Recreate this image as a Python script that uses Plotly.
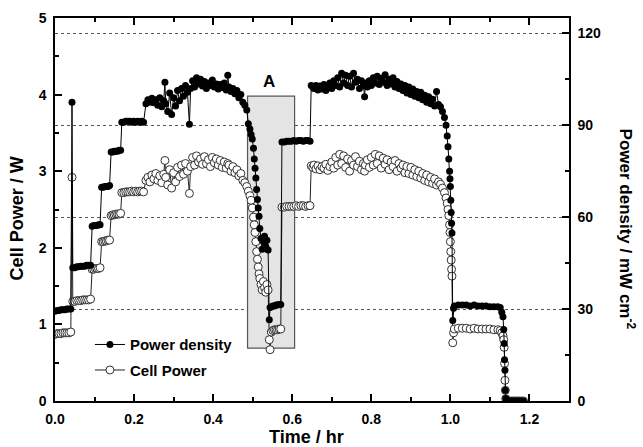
import plotly.graph_objects as go

# ---------------- data ----------------
time_hr = [
    0.000, 0.005, 0.010, 0.015, 0.020, 0.025, 0.030, 0.035, 0.040,
    0.043,
    0.045, 0.050, 0.055, 0.060, 0.065, 0.070, 0.075, 0.080, 0.085, 0.090,
    0.094, 0.098, 0.102, 0.106, 0.110, 0.114,
    0.118, 0.122, 0.126, 0.130, 0.134, 0.138,
    0.142, 0.146, 0.150, 0.154, 0.158, 0.162, 0.166,
    0.169, 0.174, 0.179, 0.184, 0.189, 0.194, 0.199, 0.204, 0.209, 0.214, 0.219, 0.224,
    # noisy region 1
    0.230, 0.235, 0.240, 0.245, 0.250, 0.255, 0.260, 0.265, 0.270, 0.275,
    0.278,
    0.280, 0.285, 0.290, 0.295, 0.300, 0.305, 0.310, 0.315, 0.320, 0.325, 0.330, 0.335,
    0.340,
    0.343, 0.348, 0.353, 0.358, 0.363, 0.368, 0.373, 0.378, 0.383, 0.388, 0.393, 0.398,
    0.403, 0.408, 0.413, 0.418, 0.423, 0.428, 0.433,
    0.437,
    0.440, 0.445, 0.450, 0.455, 0.460, 0.465, 0.470, 0.475, 0.480,
    # region A
    0.485, 0.489, 0.493, 0.496, 0.499, 0.502, 0.504, 0.506, 0.508, 0.510, 0.512, 0.514,
    0.516, 0.518, 0.521, 0.524, 0.527, 0.530, 0.533, 0.536, 0.539,
    0.542, 0.544,
    0.547, 0.551, 0.555, 0.559, 0.563, 0.567, 0.571,
    0.574, 0.580, 0.586, 0.592, 0.598, 0.604, 0.610, 0.616, 0.622, 0.628, 0.634, 0.640, 0.645,
    # noisy region 2
    0.648, 0.652, 0.655, 0.660, 0.665, 0.670, 0.675, 0.680, 0.685, 0.690,
    0.695, 0.700, 0.705, 0.710, 0.715, 0.720, 0.725, 0.730, 0.735, 0.740,
    0.745, 0.750, 0.755, 0.760, 0.765, 0.770, 0.775, 0.780,
    0.783,
    0.785, 0.790, 0.795, 0.800, 0.805, 0.810, 0.815, 0.820, 0.825, 0.830,
    0.835, 0.840, 0.845, 0.850, 0.855, 0.860, 0.865, 0.870, 0.875, 0.880,
    0.885, 0.890, 0.895, 0.900, 0.905, 0.910, 0.915, 0.920, 0.925, 0.930,
    0.935, 0.940, 0.945, 0.950, 0.955, 0.960, 0.965, 0.970,
    # final drop, low plateau, shutdown
    0.975, 0.980, 0.985, 0.989, 0.992, 0.994, 0.996, 0.998, 0.999, 1.000,
    1.001, 1.002, 1.003, 1.004, 1.006, 1.008,
    1.010, 1.020, 1.030, 1.040, 1.050, 1.060, 1.070, 1.080, 1.090, 1.100,
    1.110, 1.120, 1.126, 1.130, 1.133,
    1.135, 1.136, 1.137, 1.138, 1.139, 1.140,
    1.145, 1.150, 1.155, 1.160, 1.165, 1.170, 1.175, 1.180, 1.185,
]

# Power density, mW cm^-2 (right axis)
power_density = [
    29.3, 29.5, 29.5, 29.8, 29.8, 29.8, 30.0, 30.0, 30.0,
    97.5,
    43.5, 43.5, 43.8, 43.8, 44.0, 44.0, 44.0, 44.3, 44.3, 44.3,
    57.0, 57.3, 57.3, 57.3, 57.5, 57.5,
    69.8, 69.8, 70.0, 70.0, 70.0, 70.3,
    81.3, 81.3, 81.5, 81.5, 81.5, 81.8, 81.8,
    91.0, 91.0, 91.3, 91.3, 91.3, 91.0, 91.3, 91.0, 91.3, 91.0, 91.3, 91.0,
    97.0, 98.3, 97.5, 98.8, 97.3, 98.3, 96.5, 99.0, 96.0, 98.0,
    104.0,
    97.0, 94.5, 100.5, 93.5, 99.0, 96.3, 101.3, 98.0, 102.0, 99.5, 103.0, 100.8,
    90.3,
    102.0, 104.5, 102.5, 105.5, 103.5, 105.0, 102.8, 104.3, 102.0, 103.8, 103.0, 104.8,
    102.5, 103.5, 101.8, 103.3, 102.3, 103.8, 101.5,
    106.3,
    102.5, 101.0, 102.0, 100.3, 101.3, 99.0, 100.0, 97.5, 96.5,
    95.0, 90.5, 88.8, 87.0, 85.5, 82.5, 79.0, 76.0, 72.8, 69.0, 65.8, 63.0,
    60.3, 56.3, 53.0, 49.5, 52.0, 53.8, 50.5, 52.5, 49.3,
    26.5, 30.5,
    30.8, 31.0, 31.0, 31.3, 31.3, 31.5, 31.5,
    84.5, 84.5, 84.8, 84.8, 84.8, 85.0, 84.8, 85.0, 85.0, 84.8, 85.0, 85.0, 84.8,
    103.0, 102.5, 102.0, 103.0, 101.5, 102.8, 101.8, 103.3, 101.3, 102.5,
    103.8, 102.0, 104.5, 103.0, 105.5, 102.5, 107.0, 103.8, 106.3, 103.0,
    106.0, 102.5, 107.0, 104.0, 105.0, 102.0, 104.5, 103.0,
    99.3,
    103.8, 102.5, 104.5, 103.0, 105.5, 103.8, 106.0, 103.3, 105.3, 104.0,
    106.5, 103.0, 105.0, 103.5, 105.5, 102.5, 104.3, 102.0, 103.5, 101.3,
    103.0, 100.5, 102.5, 100.0, 101.8, 99.5, 101.0, 99.0, 100.8, 98.3,
    99.8, 97.5, 99.3, 97.0, 98.5, 96.3, 101.0, 96.8,
    96.0, 94.5, 92.5, 90.0, 86.5, 83.0, 79.0, 75.0, 72.5, 70.0,
    65.5, 61.5, 58.0, 54.8, 26.3, 30.3,
    31.0, 31.3, 31.3, 31.3, 31.0, 31.3, 31.0, 31.0, 31.0, 30.8,
    30.8, 30.8, 30.5, 29.0, 27.5,
    23.3, 18.8, 13.5, 10.0, 3.5, 0.8,
    0.0, 0.0, 0.0, 0.0, 0.0, 0.0, 0.0, 0.0, 0.0,
]

# Cell power, W (left axis)
cell_power = [
    0.87, 0.88, 0.88, 0.88, 0.89, 0.89, 0.89, 0.89, 0.90,
    2.92,
    1.30, 1.30, 1.31, 1.31, 1.31, 1.32, 1.32, 1.32, 1.32, 1.33,
    1.72, 1.72, 1.73, 1.73, 1.73, 1.74,
    2.08, 2.08, 2.09, 2.09, 2.10, 2.10,
    2.42, 2.43, 2.43, 2.44, 2.44, 2.44, 2.45,
    2.72, 2.72, 2.73, 2.73, 2.73, 2.74, 2.73, 2.74, 2.73, 2.74, 2.74, 2.73,
    2.88, 2.92, 2.86, 2.95, 2.90, 2.97, 2.88, 2.94, 2.85, 2.96,
    3.14,
    2.92, 2.82, 3.02, 2.78, 2.98, 2.86, 3.05, 2.93, 3.08, 2.96, 3.10, 3.00,
    2.71,
    3.06, 3.18, 3.08, 3.20, 3.12, 3.16, 3.09, 3.19, 3.10, 3.15, 3.06, 3.18,
    3.11, 3.16, 3.08, 3.14, 3.05, 3.12, 3.04,
    3.10,
    3.08, 3.00, 3.06, 2.98, 3.02, 2.94, 2.97, 2.88, 2.85,
    2.80, 2.74, 2.68, 2.62, 2.52, 2.40, 2.30, 2.20, 2.08, 1.95, 1.85, 1.75,
    1.66, 1.60, 1.52, 1.45, 1.56, 1.48, 1.42, 1.52, 1.45,
    0.80, 0.67,
    0.90, 0.92, 0.93, 0.93, 0.93, 0.94, 0.94,
    2.53, 2.53, 2.54, 2.54, 2.54, 2.54, 2.55, 2.54, 2.55, 2.55, 2.54, 2.55, 2.55,
    3.07, 3.05, 3.08, 3.03, 3.07, 3.02, 3.06, 3.04, 3.09, 3.01,
    3.06, 3.12, 3.04, 3.18, 3.08, 3.22, 3.10, 3.20, 3.05, 3.16,
    3.00, 3.14, 3.08, 3.19, 3.06, 3.13, 3.02, 3.10,
    3.00,
    3.08, 3.15, 3.05, 3.18, 3.08, 3.22, 3.10, 3.20, 3.04, 3.17,
    3.09, 3.15, 3.02, 3.12, 3.06, 3.14, 3.00, 3.10, 3.04, 3.08,
    2.98, 3.06, 2.97, 3.05, 2.95, 3.02, 2.93, 3.00, 2.91, 2.97,
    2.88, 2.95, 2.86, 2.92, 2.84, 2.90, 2.82, 2.86,
    2.83, 2.78, 2.72, 2.65, 2.58, 2.50, 2.42, 2.30, 2.20, 2.08,
    1.95, 1.84, 1.72, 1.63, 0.76, 0.89,
    0.94, 0.95, 0.95, 0.95, 0.94, 0.95, 0.94, 0.94, 0.94, 0.94,
    0.93, 0.93, 0.92, 0.89, 0.85,
    0.80, 0.70, 0.49, 0.27, 0.14, 0.03,
    0.0, 0.0, 0.0, 0.0, 0.0, 0.0, 0.0, 0.0, 0.0,
]

x_ticks = [0.0, 0.2, 0.4, 0.6, 0.8, 1.0, 1.2]
left_ticks = [0, 1, 2, 3, 4, 5]
right_ticks = [0, 30, 60, 90, 120]
region_a = {"t0": 0.487, "t1": 0.606, "p0": 0.69, "p1": 3.98}

FONT = "Liberation Sans, Arial, sans-serif"

fig = go.Figure()

fig.add_trace(go.Scatter(
    x=time_hr, y=cell_power, name="<b>Cell Power</b>", mode="lines+markers",
    line=dict(color="#222", width=1),
    marker=dict(symbol="circle", size=8, color="white", line=dict(color="#333", width=1)),
    yaxis="y", legendrank=2, legendgroup="cp",
))
fig.add_trace(go.Scatter(
    x=time_hr, y=power_density, name="<b>Power density</b>", mode="lines+markers",
    line=dict(color="black", width=1),
    marker=dict(symbol="circle", size=7, color="black"),
    yaxis="y2", legendrank=1, legendgroup="pd",
))

fig.add_shape(type="rect", xref="x", yref="y",
              x0=region_a["t0"], x1=region_a["t1"], y0=region_a["p0"], y1=region_a["p1"],
              fillcolor="#e4e4e4", line=dict(color="#555", width=1.2), layer="between")

axis_common = dict(showline=True, linecolor="black", linewidth=1.5,
                   ticks="inside", ticklen=7, tickwidth=1.5, tickcolor="black",
                   tickfont=dict(family=FONT, size=14, color="black", weight="bold"),
                   zeroline=False, automargin=False)

fig.update_layout(
    width=643, height=447,
    margin=dict(l=55, r=74, t=18, b=46),
    paper_bgcolor="white", plot_bgcolor="white",
    font=dict(family=FONT, color="black"),
    xaxis=dict(range=[0, 1.3], tickvals=x_ticks, ticktext=[f"{v:.1f}" for v in x_ticks],
               mirror="ticks", showgrid=False,
               minor=dict(dtick=0.1, tick0=0, ticks="inside", ticklen=4, tickwidth=1.5, tickcolor="black"),
               ticklabelstandoff=4, **axis_common),
    yaxis=dict(range=[0, 5], tickvals=left_ticks, showgrid=False,
               minor=dict(dtick=0.5, tick0=0, ticks="inside", ticklen=4, tickwidth=1.5, tickcolor="black"),
               ticklabelstandoff=4, **axis_common),
    yaxis2=dict(range=[0, 125], tickvals=right_ticks, overlaying="y", side="right", anchor="x",
                showgrid=True, gridcolor="#555", gridwidth=1, griddash="3px,3px",
                minor=dict(dtick=15, tick0=0, ticks="inside", ticklen=4, tickwidth=1.5, tickcolor="black"),
                ticklabelstandoff=4, **axis_common),
    showlegend=True,
    legend=dict(x=0.068, y=0.19, xanchor="left", yanchor="top",
                bgcolor="rgba(0,0,0,0)", traceorder="grouped", tracegroupgap=3,
                font=dict(family=FONT, size=15, color="black")),
    annotations=[
        dict(text="<b>Time / hr</b>", xref="paper", yref="paper", x=0.49, y=-0.094,
             xanchor="center", yanchor="middle", showarrow=False,
             font=dict(family=FONT, size=18, color="black")),
        dict(text="<b>Cell Power / W</b>", xref="paper", yref="paper", x=-0.075, y=0.478,
             xanchor="center", yanchor="middle", showarrow=False, textangle=-90,
             font=dict(family=FONT, size=18, color="black")),
        dict(text="<b>Power density / mW cm<sup>-2</sup></b>", xref="paper", yref="paper",
             x=1.113, y=0.45, xanchor="center", yanchor="middle", showarrow=False, textangle=90,
             font=dict(family=FONT, size=17, color="black")),
        dict(text="<b>A</b>", xref="x", yref="y", x=0.54, y=4.17,
             xanchor="center", yanchor="middle", showarrow=False,
             font=dict(family=FONT, size=17, color="black")),
    ],
)

fig.write_html("out.html", config={"displayModeBar": False},
               post_script="document.body.style.margin='0';")
